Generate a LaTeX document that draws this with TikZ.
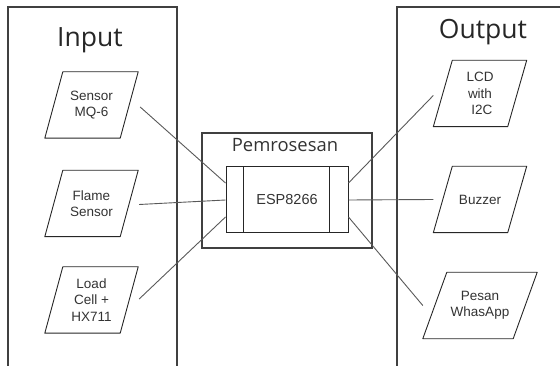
\documentclass[tikz,border=0pt]{standalone}
\usepackage{fontspec}
\setmainfont{Liberation Sans}
\newfontfamily\titlefont{Open Sans}
\begin{document}
\begin{tikzpicture}[x=1pt,y=-1pt,
    frame/.style={draw=black!75, line width=2pt},
    io/.style={minimum width=93pt, minimum height=66pt, inner sep=0pt,
        align=center, font=\fontsize{13.5}{16.5}\selectfont, text=black!80},
    ioline/.style={draw=black!85, line width=0.9pt, line join=round},
    link/.style={draw=black!65, line width=0.9pt},
    title/.style={font=\titlefont\fontsize{26.5}{30}\selectfont, text=black!85, anchor=base}]
    \useasboundingbox (0,0) rectangle (560,366);
    % input and output columns
    \begin{scope}
        \clip (0,0) rectangle (560,366);
        \draw[frame] (8,380) -- (8,7) -- (177,7) -- (177,380);
        \draw[frame] (397,380) -- (397,7) -- (580,7);
    \end{scope}
    \node[title] (input) at (90,47) {Input};
    \node[title] (output) at (483,39) {Output};
    % processing
    \node[frame, minimum width=170pt, minimum height=115pt, inner sep=0pt] (proc) at (287,190.5) {};
    \node[font=\titlefont\fontsize{18.4}{22}\selectfont, text=black!80] (proclabel) at (285,145) {Pemrosesan};
    \node[draw=black!85, line width=1pt, minimum width=122pt, minimum height=66pt, inner sep=0pt,
          font=\fontsize{14.5}{16}\selectfont, text=black!80] (esp) at (287,200) {ESP8266};
    \draw[black!85, line width=1pt] ([xshift=18pt]esp.north west) -- ([xshift=18pt]esp.south west);
    \draw[black!85, line width=1pt] ([xshift=-19pt]esp.north east) -- ([xshift=-19pt]esp.south east);
    % inputs
    \node[io] (mq6) at (91.5,105) {Sensor\\MQ-6};
    \node[io] (flame) at (91.5,203.5) {Flame\\Sensor};
    \node[io] (load) at (91.5,300) {Load\\Cell +\\HX711};
    % outputs
    \node[io] (lcd) at (480,93.5) {LCD\\with\\\ I2C};
    \node[io] (buzzer) at (480,199.5) {Buzzer};
    \node[io, minimum width=114pt] (wa) at (480,305.5) {Pesan\\WhasApp};
    % parallelogram outlines
    \foreach \n/\s in {mq6/18,flame/18,load/18,lcd/19,buzzer/19,wa/24} {
        \draw[ioline] ([xshift=\s pt]\n.north west) -- (\n.north east)
            -- ([xshift=-\s pt]\n.south east) -- (\n.south west) -- cycle;
    }
    % links
    \draw[link] ([xshift=2pt,yshift=-2pt]mq6.east) -- ([yshift=17pt]esp.west);
    \draw[link] ([xshift=1pt,yshift=-1pt]flame.east) -- (esp.west);
    \draw[link] ([xshift=1pt,yshift=1pt]load.east) -- ([yshift=-17pt]esp.west);
    \draw[link] ([yshift=-2pt]lcd.west) -- ([yshift=17pt]esp.east);
    \draw[link] (buzzer.west) -- (esp.east);
    \draw[link] (wa.west) -- ([yshift=-17pt]esp.east);
\end{tikzpicture}
\end{document}
